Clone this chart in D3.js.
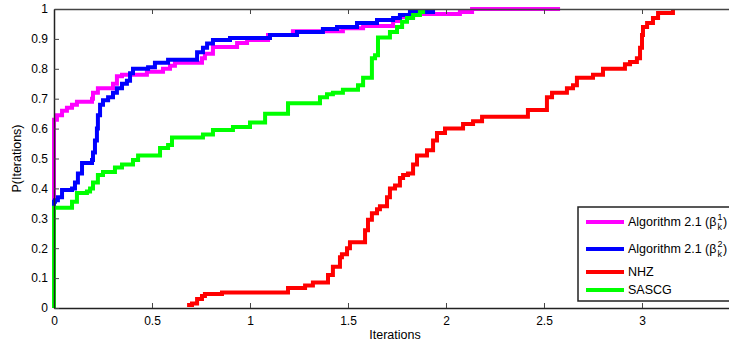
<!DOCTYPE html>
<html>
<head>
<meta charset="utf-8">
<script src="https://cdn.jsdelivr.net/npm/d3@7"></script>
<style>
  body { margin: 0; background: #fff; }
  text { font-family: "Liberation Sans", Arial, sans-serif; fill: #000; }
</style>
</head>
<body>
<div id="chart"></div>
<script>
// step data, [iterations, P]
var beta1 = [[0,0],[0,0.63],[0.015,0.645],[0.041,0.66],[0.066,0.67],[0.092,0.68],[0.117,0.69],
  [0.194,0.70],[0.199,0.72],[0.224,0.735],[0.301,0.75],[0.321,0.775],[0.347,0.78],[0.474,0.79],
  [0.556,0.80],[0.592,0.81],[0.617,0.82],[0.755,0.835],[0.770,0.85],[0.811,0.873],[0.934,0.886],
  [0.985,0.896],[1.092,0.913],[1.219,0.926],[1.474,0.936],[1.577,0.943],[1.730,0.96],[1.765,0.973],
  [1.832,0.983],[2.071,0.99],[2.133,1.0],[2.582,1.0]];

var beta2 = [[0,0],[0,0.355],[0.005,0.36],[0.02,0.37],[0.041,0.395],[0.092,0.40],[0.107,0.42],
  [0.122,0.45],[0.143,0.485],[0.194,0.495],[0.199,0.52],[0.209,0.56],[0.219,0.60],[0.224,0.645],
  [0.235,0.68],[0.25,0.695],[0.276,0.705],[0.301,0.72],[0.321,0.735],[0.347,0.75],[0.372,0.76],
  [0.388,0.785],[0.403,0.80],[0.48,0.805],[0.515,0.82],[0.582,0.83],[0.730,0.855],[0.760,0.87],
  [0.781,0.885],[0.811,0.896],[0.898,0.903],[1.102,0.913],[1.240,0.923],[1.372,0.933],[1.444,0.94],
  [1.546,0.953],[1.648,0.963],[1.730,0.97],[1.765,0.98],[1.816,0.99],[1.934,1.0]];

var nhz = [[0.679,0.01],[0.704,0.015],[0.730,0.03],[0.755,0.04],[0.770,0.047],[0.857,0.052],
  [1.194,0.067],[1.281,0.075],[1.321,0.085],[1.398,0.11],[1.423,0.138],[1.459,0.17],[1.469,0.18],
  [1.495,0.20],[1.510,0.22],[1.587,0.26],[1.602,0.295],[1.622,0.317],[1.648,0.33],[1.663,0.34],
  [1.699,0.37],[1.714,0.40],[1.740,0.41],[1.765,0.435],[1.781,0.445],[1.806,0.45],[1.832,0.48],
  [1.852,0.51],[1.903,0.528],[1.934,0.56],[1.954,0.585],[1.995,0.60],[2.087,0.615],[2.138,0.625],
  [2.184,0.64],[2.418,0.662],[2.515,0.705],[2.541,0.72],[2.617,0.735],[2.648,0.745],[2.668,0.77],
  [2.750,0.78],[2.801,0.80],[2.913,0.815],[2.939,0.823],[2.974,0.835],[2.990,0.87],[3.0,0.913],
  [3.005,0.94],[3.026,0.953],[3.056,0.97],[3.082,0.987],[3.158,1.0]];

var sascg = [[0,0],[0,0.335],[0.092,0.355],[0.117,0.385],[0.168,0.39],[0.184,0.40],[0.199,0.42],
  [0.224,0.445],[0.25,0.455],[0.311,0.47],[0.347,0.48],[0.403,0.495],[0.429,0.51],[0.541,0.535],
  [0.582,0.545],[0.602,0.57],[0.760,0.58],[0.811,0.595],[0.913,0.605],[1.0,0.62],[1.077,0.65],
  [1.194,0.685],[1.357,0.705],[1.393,0.715],[1.423,0.72],[1.474,0.73],[1.551,0.745],[1.577,0.77],
  [1.622,0.835],[1.638,0.845],[1.653,0.905],[1.714,0.923],[1.750,0.94],[1.776,0.957],[1.801,0.97],
  [1.832,0.98],[1.867,0.99],[1.883,1.0]];

var xTicks = [0, 0.5, 1, 1.5, 2, 2.5, 3];
var yTicks = [0, 0.1, 0.2, 0.3, 0.4, 0.5, 0.6, 0.7, 0.8, 0.9, 1];

var series = [
  {name: "beta1", data: beta1, color: "#ff00ff"},
  {name: "beta2", data: beta2, color: "#0000ff"},
  {name: "NHZ", data: nhz, color: "#ff0000"},
  {name: "SASCG", data: sascg, color: "#00ff00"}
];

// set the dimensions and margins of the graph
var margin = {top: 9, right: 0, bottom: 36, left: 54},
    width = 676,
    height = 344 - margin.top - margin.bottom;

var x = d3.scaleLinear().domain([0, 3.449]).range([0, width]);
var y = d3.scaleLinear().domain([0, 1]).range([height, 0]);

var svg = d3.select("#chart").append("svg")
    .attr("width", 729)
    .attr("height", 344)
  .append("g")
    .attr("transform", "translate(" + margin.left + "," + margin.top + ")");

var line = d3.line()
    .x(function(d) { return x(d[0]); })
    .y(function(d) { return y(d[1]); })
    .curve(d3.curveStepAfter);

// curves
svg.selectAll(".curve")
    .data(series)
  .enter().append("path")
    .attr("class", "curve")
    .attr("d", function(d) { return line(d.data); })
    .attr("fill", "none")
    .attr("stroke", function(d) { return d.color; })
    .attr("stroke-width", 4)
    .attr("stroke-linejoin", "miter");

// axes, matlab style with inward ticks
var xAxis = svg.append("g")
    .attr("transform", "translate(0," + height + ")")
    .call(d3.axisBottom(x).tickValues(xTicks).tickSizeInner(-5).tickSizeOuter(0).tickPadding(8)
      .tickFormat(d3.format("")));
var yAxis = svg.append("g")
    .call(d3.axisLeft(y).tickValues(yTicks).tickSizeInner(-5).tickSizeOuter(0).tickPadding(6)
      .tickFormat(function(d) { return d === 0 || d === 1 ? d : d3.format(".1f")(d); }));
var topAxis = svg.append("g")
    .call(d3.axisTop(x).tickValues(xTicks).tickSizeInner(-5).tickSizeOuter(0).tickFormat(""));

[xAxis, yAxis, topAxis].forEach(function(a) {
  a.selectAll("text").style("font-size", "12px").attr("font-family", "Liberation Sans, Arial, sans-serif");
  a.selectAll("line").attr("stroke", "#444");
});
xAxis.select(".domain").attr("stroke", "#222").attr("stroke-width", 1.5);
yAxis.select(".domain").attr("stroke", "#222").attr("stroke-width", 1.5);
topAxis.select(".domain").attr("stroke", "#444").attr("stroke-width", 1.5);
topAxis.selectAll(".tick").filter(function(d) { return d === 0; }).remove();

// labels
svg.append("text")
    .attr("x", width / 2 + 3)
    .attr("y", height + 31)
    .attr("text-anchor", "middle")
    .style("font-size", "12.5px")
    .text("Iterations");
svg.append("text")
    .attr("transform", "translate(-33," + height / 2 + ") rotate(-90)")
    .attr("text-anchor", "middle")
    .style("font-size", "12.5px")
    .text("P(Iterations)");

// legend
var lg = svg.append("g").attr("transform", "translate(" + (578 - margin.left) + "," + (207 - margin.top) + ")");
lg.append("rect")
    .attr("width", 160).attr("height", 94)
    .attr("fill", "#fff").attr("stroke", "#222").attr("stroke-width", 1.5);

var legendRows = [
  {color: "#ff00ff", label: "Algorithm 2.1 (β", sup: "1", yy: 15},
  {color: "#0000ff", label: "Algorithm 2.1 (β", sup: "2", yy: 42},
  {color: "#ff0000", label: "NHZ", yy: 65},
  {color: "#00ff00", label: "SASCG", yy: 83}
];
legendRows.forEach(function(r) {
  lg.append("line")
      .attr("x1", 8).attr("x2", 46).attr("y1", r.yy).attr("y2", r.yy)
      .attr("stroke", r.color).attr("stroke-width", 4);
  var t = lg.append("text").attr("x", 50).attr("y", r.yy + 4).style("font-size", "12.5px");
  t.append("tspan").text(r.label);
  if (r.sup) {
    t.append("tspan").attr("dy", -6).attr("dx", 1).style("font-size", "9px").text(r.sup);
    t.append("tspan").attr("dy", 10).attr("dx", -5).style("font-size", "9px").text("k");
    t.append("tspan").attr("dy", -4).attr("dx", 1).text(")");
  }
});
</script>
</body>
</html>
